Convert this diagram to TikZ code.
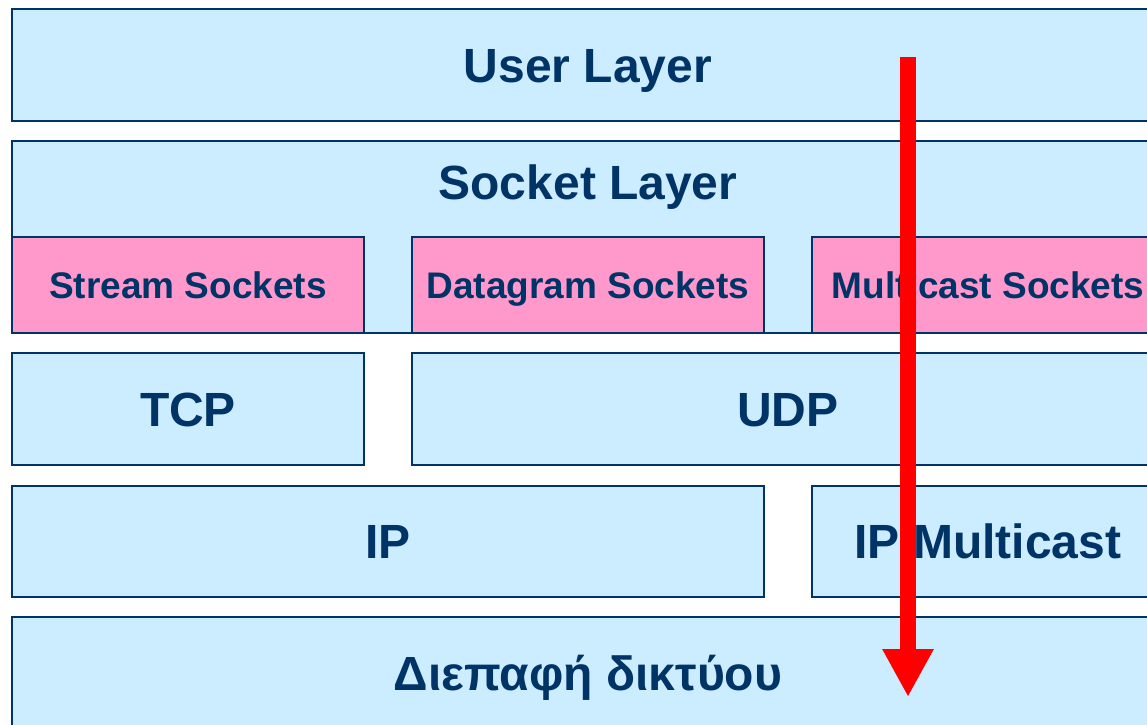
\documentclass[tikz,border=0pt]{standalone}
\usepackage{fontspec}
\setmainfont{Liberation Sans}
\usepackage{tikz}
\usetikzlibrary{arrows.meta, positioning}

\definecolor{navy}{HTML}{003366}
\definecolor{skyfill}{HTML}{CCECFF}
\definecolor{pinkfill}{HTML}{FF99CC}

\begin{document}
\begin{tikzpicture}[x=1pt, y=-1pt,
    layer/.style={rectangle, draw=navy, line width=2.5pt, fill=skyfill,
      inner sep=0pt, text=navy, text height=34pt, text depth=0pt,
      font=\fontsize{48}{48}\selectfont\bfseries},
    sock/.style={layer, fill=pinkfill, text height=26pt,
      font=\fontsize{37}{37}\selectfont\bfseries}]
    \useasboundingbox (0,0) rectangle (1147,724);

    \node[layer, minimum width=1152pt, minimum height=112pt] (user) at (588,65) {User Layer};
    \node[layer, minimum width=1152pt, minimum height=192pt] (socket) at (588,237) {};
    \node[text=navy, text height=34pt, text depth=0pt, inner sep=0pt,
      font=\fontsize{48}{48}\selectfont\bfseries] (socketlbl) at (588,182) {Socket Layer};

    \node[sock, minimum width=352pt, minimum height=96pt] (stream) at (188,285) {Stream Sockets};
    \node[sock, minimum width=352pt, minimum height=96pt] (dgram) at (588,285) {Datagram Sockets};
    \node[sock, minimum width=352pt, minimum height=96pt] (mcast) at (988,285) {Multicast Sockets};

    \node[layer, minimum width=352pt, minimum height=112pt] (tcp) at (188,409) {TCP};
    \node[layer, minimum width=752pt, minimum height=112pt] (udp) at (788,409) {UDP};

    \node[layer, minimum width=752pt, minimum height=111pt] (ip) at (388,541.5) {IP};
    \node[layer, minimum width=352pt, minimum height=111pt] (ipm) at (988,541.5) {IP Multicast};

    \node[layer, minimum width=1152pt, minimum height=120pt, text depth=8pt] (net) at (588,677) {Διεπαφή δικτύου};

    % flow through the stack
    \coordinate (flowtop) at (908,57);
    \coordinate (flowend) at (908,697);
    \draw[red, line width=16pt, -{Triangle[length=48pt, width=48pt]}] (flowtop) -- (flowend);
\end{tikzpicture}
\end{document}
